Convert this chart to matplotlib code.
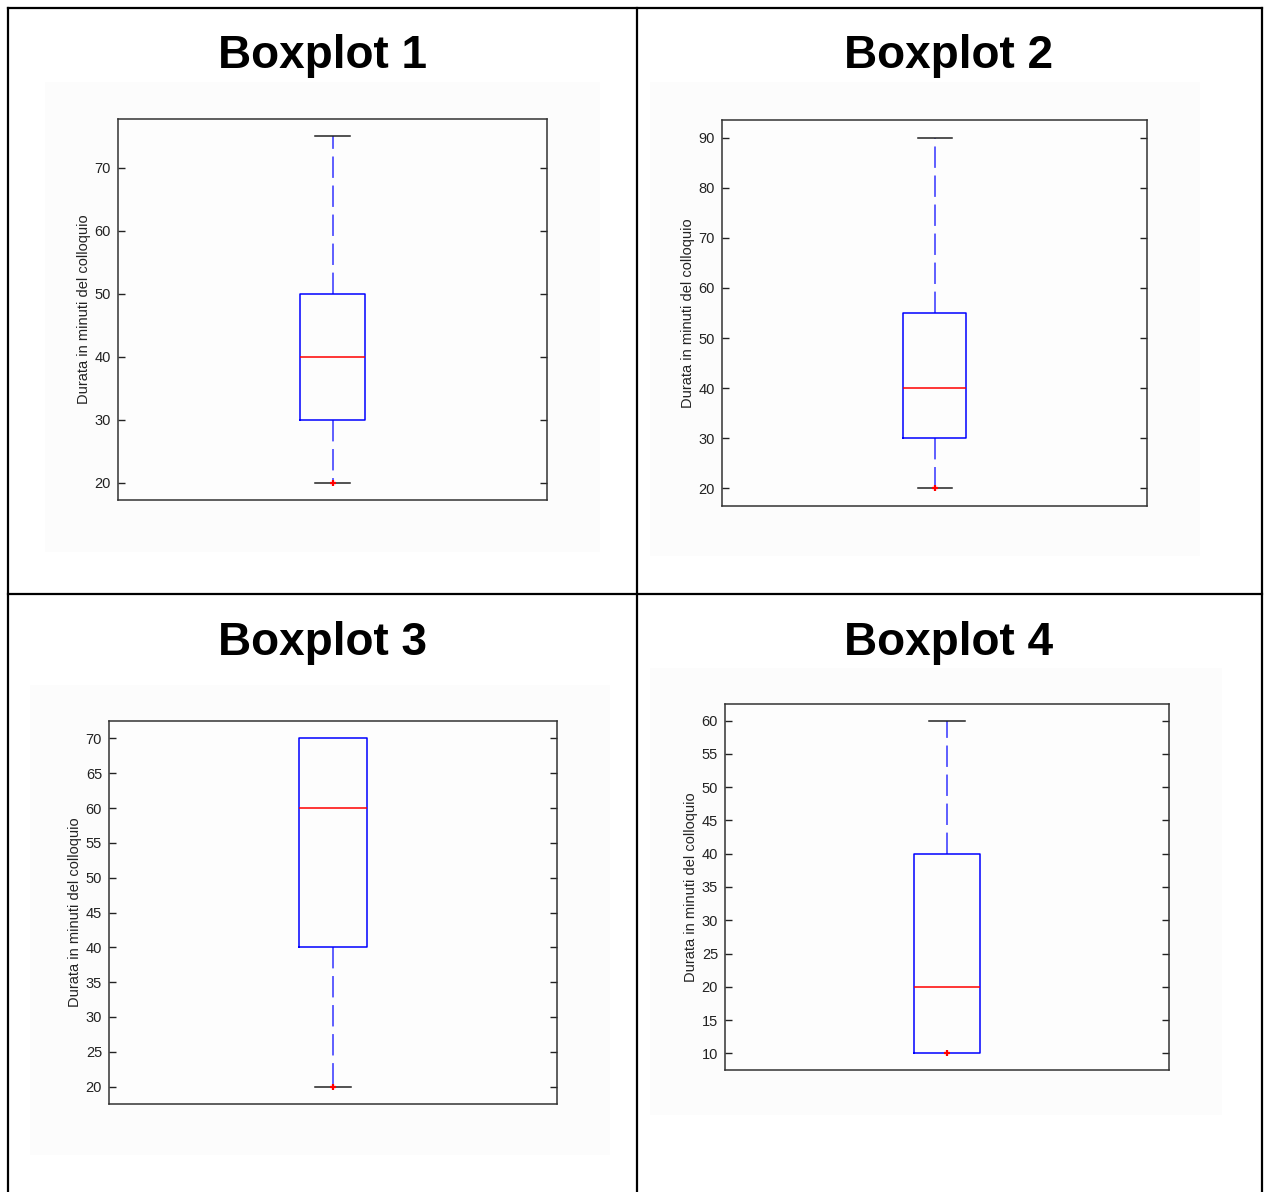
import numpy as np
import matplotlib
matplotlib.use("Agg")
import matplotlib.pyplot as plt
from matplotlib.lines import Line2D
from matplotlib.patches import Rectangle

titoli = ["Boxplot 1", "Boxplot 2", "Boxplot 3", "Boxplot 4"]
baffo_basso = [20, 20, 20, 10]
q1 = [30, 30, 40, 10]
mediana = [40, 40, 60, 20]
q3 = [50, 55, 70, 40]
baffo_alto = [75, 90, 70, 60]
punti_rossi = [[20], [20], [20], [10]]
passo_tick = [10, 10, 5, 5]
etichetta_y = "Durata in minuti del colloquio"

W, H = 1269, 1192
fig = plt.figure(figsize=(W / 100, H / 100), dpi=100)
fig.patch.set_facecolor("white")

def rect_px(x0, y0, x1, y1):
    # pixel (origine in alto a sinistra) -> frazioni di figura
    return [x0 / W, 1 - y1 / H, (x1 - x0) / W, (y1 - y0) / H]

# area grigina della finestra matlab e box degli assi, in pixel
sfondi = [(45, 82, 600, 552), (650, 82, 1200, 556), (30, 685, 610, 1155), (650, 668, 1222, 1115)]
assi = [(118, 119, 547, 500), (722, 120, 1147, 506), (109, 721, 557, 1104), (725, 704, 1169, 1070)]
centri_titolo = [(322, 56), (949, 56), (322, 643), (949, 643)]

for i in range(4):
    fx0, fy0, fx1, fy1 = sfondi[i]
    fig.add_artist(Rectangle((fx0 / W, 1 - fy1 / H), (fx1 - fx0) / W, (fy1 - fy0) / H,
                             transform=fig.transFigure, facecolor="#fcfcfc", edgecolor="none", zorder=0))

    cx, cy = centri_titolo[i]
    fig.text(cx / W, 1 - cy / H, titoli[i], ha="center", va="center",
             fontsize=33, fontweight="bold", family="Liberation Sans")

    ax = fig.add_axes(rect_px(*assi[i]))
    ax.set_facecolor("#fdfdfd")
    stats = [dict(med=mediana[i], q1=q1[i], q3=q3[i], whislo=baffo_basso[i],
                  whishi=baffo_alto[i], fliers=punti_rossi[i])]
    res = ax.bxp(stats, positions=[1], widths=0.15, capwidths=0.08,
                 boxprops=dict(color="#0000ff", lw=1.1),
                 whiskerprops=dict(color="#3333ff", lw=1.1, linestyle=(0, (14, 5))),
                 capprops=dict(color="#222222", lw=1.1),
                 medianprops=dict(color="#ff0000", lw=1.1),
                 flierprops=dict(marker="+", markersize=4, markeredgewidth=1.6,
                                 markeredgecolor="#ff0000"))
    # il box copre i cappucci quando coincidono
    basso, alto = res["caps"]
    if baffo_basso[i] == q1[i]:
        basso.set_visible(False)
    if baffo_alto[i] == q3[i]:
        alto.set_visible(False)
    for b in res["boxes"]:
        b.set_zorder(3)
    for m in res["medians"]:
        m.set_zorder(4)
    for f in res["fliers"]:
        f.set_zorder(5)

    lo, hi = baffo_basso[i], baffo_alto[i]
    pad = 0.05 * (hi - lo)
    ax.set_ylim(lo - pad, hi + pad)
    ax.set_xlim(0.5, 1.5)
    ax.set_yticks(np.arange(lo, hi + 0.1, passo_tick[i]))
    ax.set_xticks([])
    ax.tick_params(axis="y", direction="in", length=5, width=1, color="#222222",
                   right=True, labelsize=10.5, pad=5, labelcolor="#222222")
    for lab in ax.get_yticklabels():
        lab.set_family("Liberation Sans")
    for s in ax.spines.values():
        s.set_color("#333333")
        s.set_linewidth(1.1)
    ax.set_ylabel(etichetta_y, fontsize=10.5, family="Liberation Sans", color="#222222")
    ax.yaxis.set_label_coords(-27 / (assi[i][2] - assi[i][0]), 0.5)

# griglia della tabella
def linea(x0, y0, x1, y1):
    fig.add_artist(Line2D([x0 / W, x1 / W], [1 - y0 / H, 1 - y1 / H],
                          transform=fig.transFigure, color="black", lw=1.6, zorder=10))

linea(8, 8, 1262, 8)
linea(8, 8, 8, H)
linea(1262, 8, 1262, H)
linea(637, 8, 637, H)
linea(8, 594, 1262, 594)

fig.savefig("out.png", dpi=100)
